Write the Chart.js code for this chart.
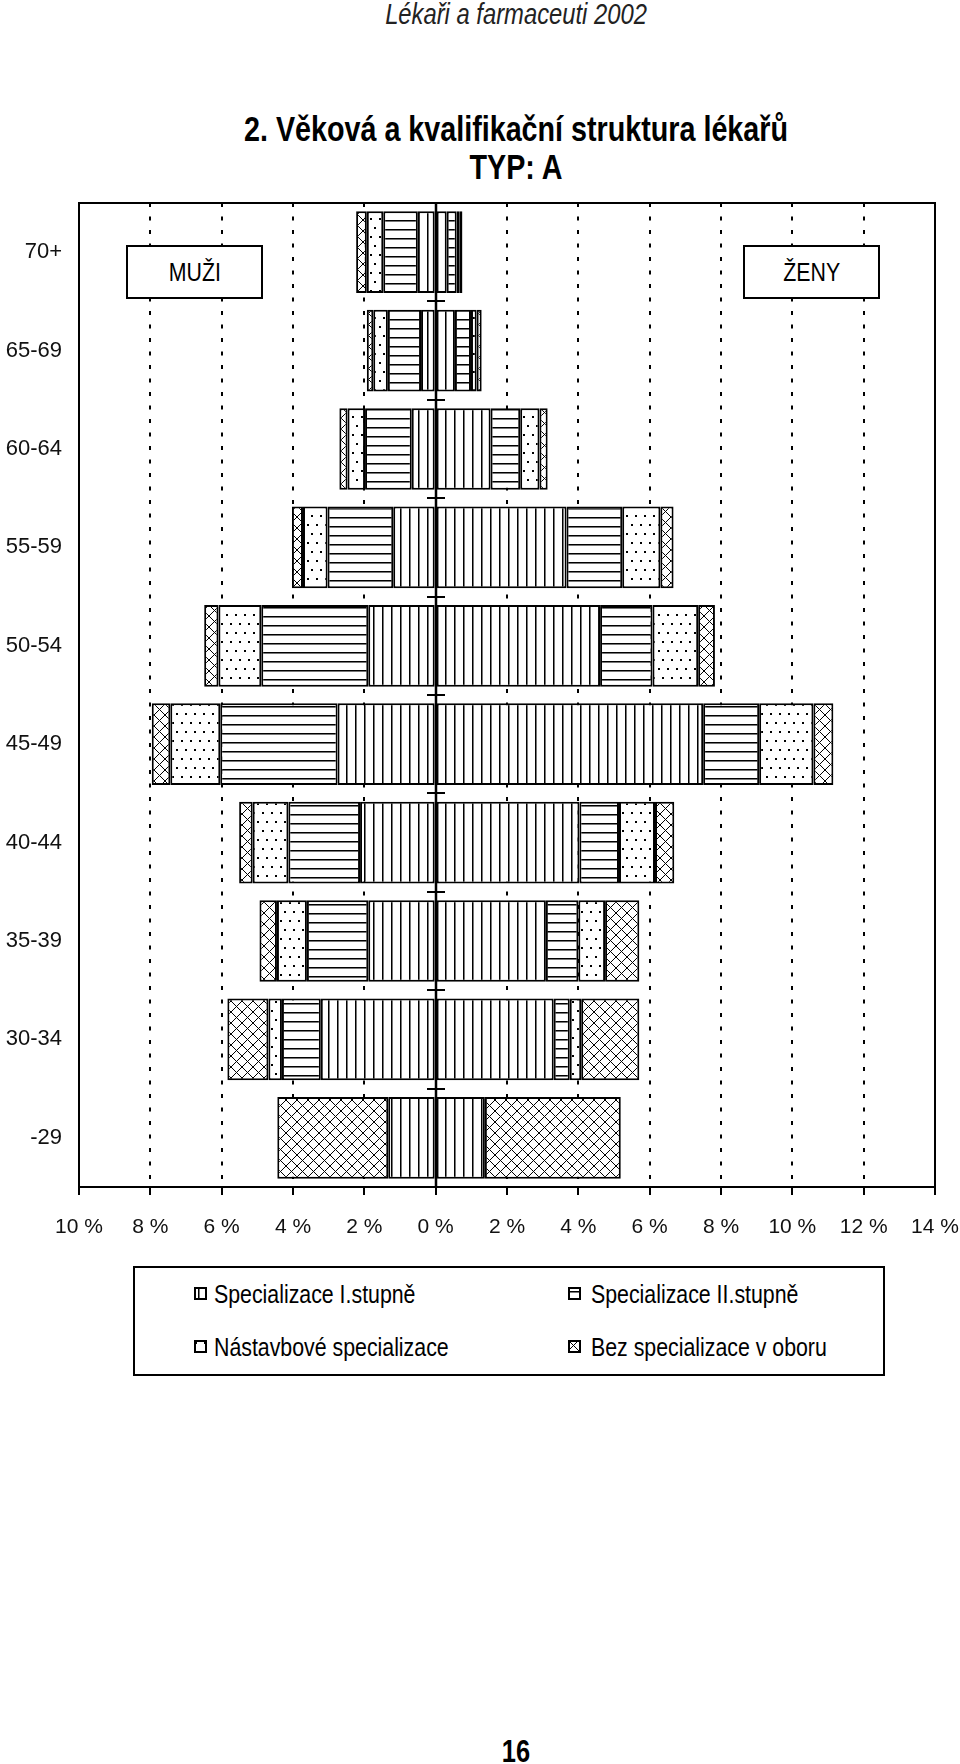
<!DOCTYPE html>
<html lang="cs">
<head>
<meta charset="utf-8">
<script src="https://cdn.jsdelivr.net/npm/chart.js@4.4.1/dist/chart.umd.min.js"></script>
<style>
  html, body { margin: 0; padding: 0; background: #fff; }
  body { width: 960px; height: 1764px; position: relative; overflow: hidden;
         font-family: "Liberation Sans", Arial, sans-serif; color: #000; }
  .c { position: absolute; left: 56px; width: 920px; text-align: center; white-space: nowrap;
       transform: scaleX(0.82); }
  #head { top: 0; font-size: 29px; font-style: italic; line-height: 28px; color: #222; }
  #title { top: 110px; font-size: 35px; font-weight: bold; line-height: 38px; }
  #page { top: 1735px; font-size: 31px; font-weight: bold; line-height: 34px; }
  #c { position: absolute; left: 0; top: 0; }
  .sex { position: absolute; top: 245px; width: 133px; height: 50px; border: 2px solid #000;
         background: #fff; font-size: 26px; line-height: 50px; text-align: center; }
  .sex span { display: inline-block; transform: scaleX(0.82); }
  #legend { position: absolute; left: 133px; top: 1266px; width: 748px; height: 106px; border: 2px solid #000; }
  .txt { position: absolute; font-size: 26px; line-height: 30px; white-space: nowrap;
         transform: scaleX(0.82); transform-origin: 0 50%; }
  .ico { position: absolute; }
</style>
</head>
<body>
<div id="head" class="c">Lékaři a farmaceuti 2002</div>
<div id="title" class="c">2. Věková a kvalifikační struktura lékařů<br>TYP: A</div>
<canvas id="c" width="960" height="1260"></canvas>
<div class="sex" style="left:126px"><span>MUŽI</span></div>
<div class="sex" style="left:743px"><span>ŽENY</span></div>
<div id="legend">
  <canvas class="ico" id="i0" width="13" height="13" style="left:59px;top:19px"></canvas>
  <div class="txt" style="left:79px;top:11px">Specializace I.stupně</div>
  <canvas class="ico" id="i1" width="13" height="13" style="left:433px;top:19px"></canvas>
  <div class="txt" style="left:456px;top:11px">Specializace II.stupně</div>
  <canvas class="ico" id="i2" width="13" height="13" style="left:59px;top:72px"></canvas>
  <div class="txt" style="left:79px;top:64px">Nástavbové specializace</div>
  <canvas class="ico" id="i3" width="13" height="13" style="left:433px;top:72px"></canvas>
  <div class="txt" style="left:456px;top:64px">Bez specializace v oboru</div>
</div>
<div id="page" class="c">16</div>

<script>
const FONT = '"Liberation Sans", Arial, sans-serif';

// vekove skupiny (shora dolu)
const ages = ['70+', '65-69', '60-64', '55-59', '50-54', '45-49', '40-44', '35-39', '30-34', '-29'];

// muzi (v %)
const menI  = [0.50, 0.41, 0.67, 1.19, 1.89, 2.75, 2.12, 1.89, 3.22, 1.33];
const menII = [0.97, 0.93, 1.31, 1.84, 3.00, 3.29, 2.01, 1.72, 1.09, 0];
const menN  = [0.46, 0.41, 0.49, 0.69, 1.20, 1.40, 1.00, 0.84, 0.38, 0];
const menB  = [0.30, 0.18, 0.23, 0.31, 0.40, 0.52, 0.38, 0.49, 1.15, 3.11];

// zeny (v %)
const womI  = [0.31, 0.54, 1.54, 3.67, 4.61, 7.50, 4.03, 3.09, 3.31, 1.38];
const womII = [0.28, 0.45, 0.83, 1.56, 1.47, 1.57, 1.11, 0.91, 0.45, 0];
const womN  = [0.07, 0.16, 0.54, 1.07, 1.28, 1.52, 1.01, 0.75, 0.32, 0];
const womB  = [0.09, 0.14, 0.23, 0.37, 0.47, 0.56, 0.54, 0.96, 1.63, 3.81];

const seriesNames = ['Specializace I.stupně', 'Specializace II.stupně', 'Nástavbové specializace', 'Bez specializace v oboru'];
const xMin = -10, xMax = 14, xStep = 2;

// srafy
function makePattern(kind) {
    const c = document.createElement('canvas');
    let w = 9, h = 9;
    if (kind === 'dots') { h = 18; }
    if (kind === 'cross') { w = 11; h = 11; }
    c.width = w; c.height = h;
    const g = c.getContext('2d');
    g.fillStyle = '#fff';
    g.fillRect(0, 0, w, h);
    g.fillStyle = '#000';
    if (kind === 'vert') { g.fillRect(4, 0, 1, h); g.fillStyle = '#777'; g.fillRect(5, 0, 1, h); }
    if (kind === 'horiz') { g.fillRect(0, 4, w, 1); g.fillStyle = '#777'; g.fillRect(0, 5, w, 1); }
    if (kind === 'dots') { g.fillRect(1, 2, 2, 2); g.fillRect(5, 11, 2, 2); }
    if (kind === 'cross') {
        for (let i = 0; i < w; i++) {
            g.fillRect(i, i, 1, 1);
            g.fillRect(w - 1 - i, i, 1, 1);
        }
    }
    return g.createPattern(c, 'repeat');
}
const patterns = [makePattern('vert'), makePattern('horiz'), makePattern('dots'), makePattern('cross')];

const menSeries = [menI, menII, menN, menB];
const womSeries = [womI, womII, womN, womB];

const datasets = [];
menSeries.forEach((arr, i) => datasets.push({
    label: seriesNames[i] + ' (muži)',
    data: arr.map(v => -v),
    backgroundColor: patterns[i],
}));
womSeries.forEach((arr, i) => datasets.push({
    label: seriesNames[i] + ' (ženy)',
    data: arr,
    backgroundColor: patterns[i],
}));

const isEdge = v => v === xMin || v === 0 || v === xMax;

// ramecek, stredova osa a znacky mezi skupinami
const framePlugin = {
    id: 'frame',
    afterDatasetsDraw(chart) {
        const { ctx, chartArea: a, scales: { x, y } } = chart;
        const x0 = Math.round(x.getPixelForValue(0));
        ctx.save();
        ctx.strokeStyle = '#000';
        ctx.lineWidth = 2;
        ctx.strokeRect(a.left, a.top, a.right - a.left, a.bottom - a.top);
        ctx.lineWidth = 2.5;
        ctx.beginPath();
        ctx.moveTo(x0, a.top);
        ctx.lineTo(x0, a.bottom);
        ctx.stroke();
        ctx.lineWidth = 2;
        for (let i = 0; i < ages.length - 1; i++) {
            const yy = Math.round((y.getPixelForValue(i) + y.getPixelForValue(i + 1)) / 2);
            ctx.beginPath();
            ctx.moveTo(x0 - 9, yy);
            ctx.lineTo(x0 + 9, yy);
            ctx.stroke();
        }
        ctx.restore();
    }
};

new Chart(document.getElementById('c'), {
    type: 'bar',
    data: { labels: ages, datasets: datasets },
    plugins: [framePlugin],
    options: {
        indexAxis: 'y',
        responsive: false,
        animation: false,
        events: [],
        layout: { padding: { top: 203, right: 25, bottom: 13, left: 0 } },
        plugins: { legend: { display: false }, tooltip: { enabled: false } },
        datasets: {
            bar: {
                categoryPercentage: 1,
                barPercentage: 0.83,
                borderWidth: 2,
                borderColor: '#000',
                borderSkipped: false,
            }
        },
        scales: {
            x: {
                type: 'linear',
                stacked: true,
                min: xMin,
                max: xMax,
                ticks: {
                    stepSize: xStep,
                    autoSkip: false,
                    maxRotation: 0,
                    color: '#111',
                    padding: 0,
                    // vyssi radek posune popisky dolu, bez pridaneho okraje vpravo
                    font: { family: FONT, size: 21, lineHeight: 3.05 },
                    callback: v => Math.abs(v) + ' %',
                },
                grid: {
                    color: ctx => (ctx.tick && isEdge(ctx.tick.value)) ? 'rgba(0,0,0,0)' : '#000',
                    lineWidth: 2,
                    tickLength: 8,
                    tickColor: '#000',
                    tickWidth: 2,
                },
                border: {
                    display: true,
                    color: '#000',
                    width: 2,
                    dash: [4, 9.5],
                },
                afterFit: s => { s.height = 60; },
            },
            y: {
                stacked: true,
                grid: { display: false, drawTicks: false },
                border: { display: false },
                ticks: { color: '#111', padding: 17, font: { family: FONT, size: 22 } },
                afterFit: s => { s.width = 79; },
            }
        }
    }
});

// ikony legendy
patterns.forEach((p, i) => {
    const g = document.getElementById('i' + i).getContext('2d');
    g.fillStyle = p;
    g.fillRect(0, 0, 13, 13);
    g.strokeStyle = '#000';
    g.lineWidth = 2;
    g.strokeRect(1, 1, 11, 11);
});
</script>
</body>
</html>
